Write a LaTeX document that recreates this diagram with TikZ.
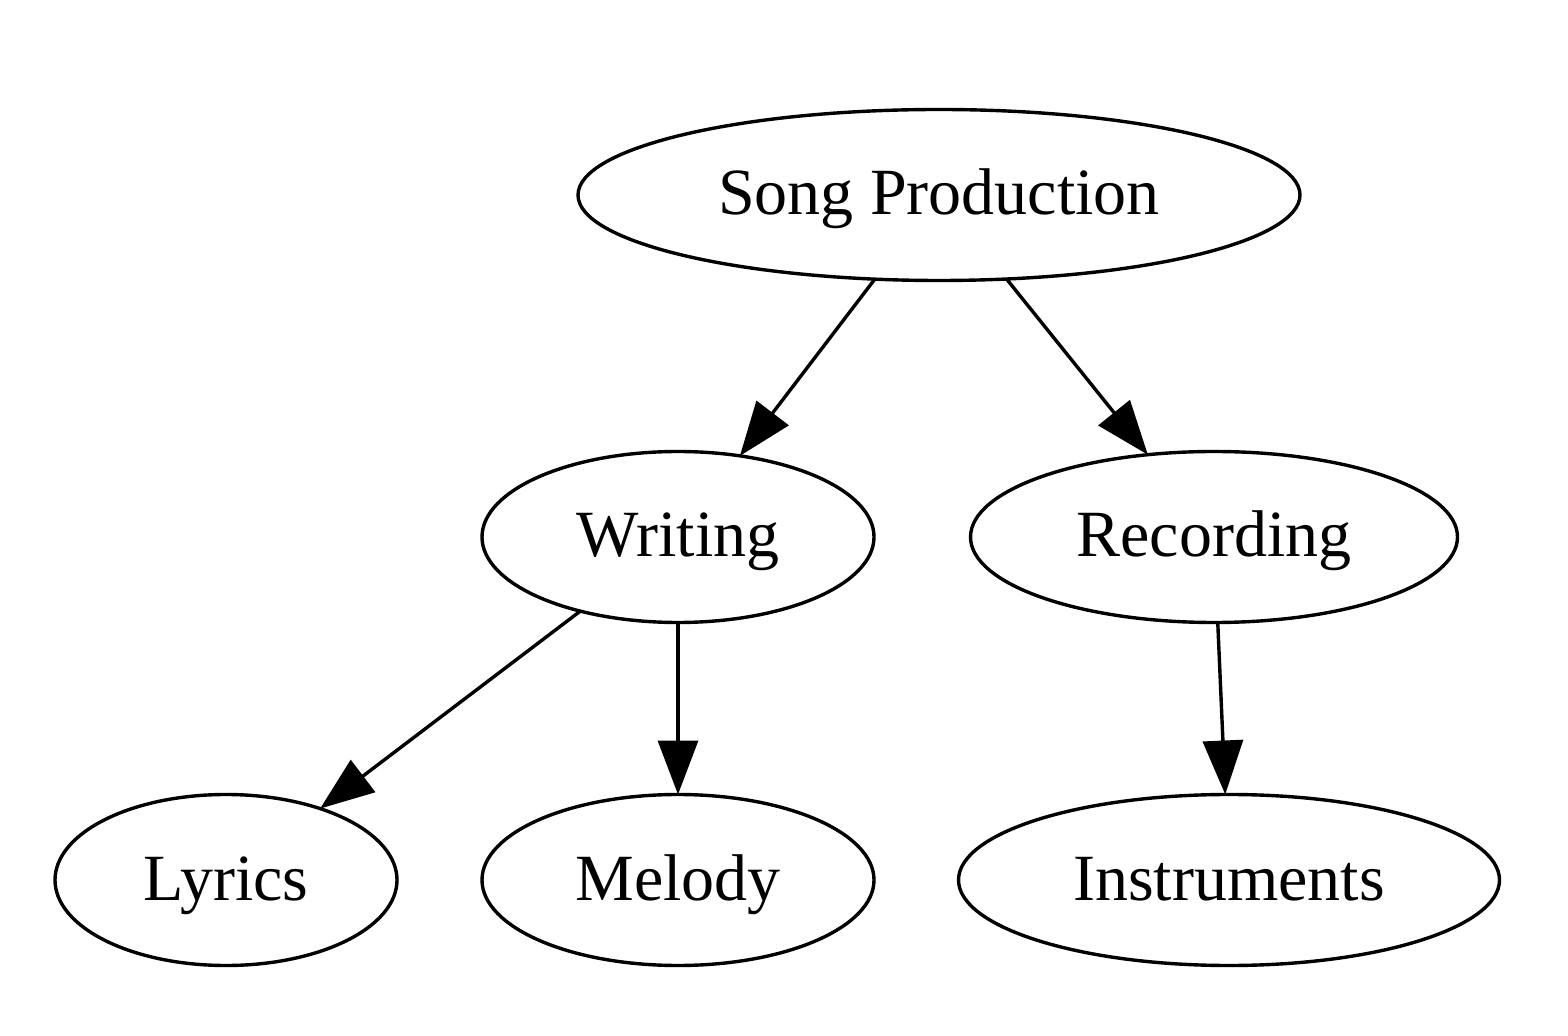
\documentclass[tikz,border=0pt]{standalone}
\usepackage{fontspec}
\setmainfont{Liberation Serif}
\usetikzlibrary{shapes.geometric,arrows.meta}
\begin{document}
\begin{tikzpicture}[x=0.5pt,y=-0.5pt,
  every node/.style={ellipse,draw,line width=1.7pt,inner sep=0pt,outer sep=0pt,
    font=\fontsize{33}{40}\selectfont,text height=24pt,text depth=4pt},
  edge/.style={line width=1.7pt,-{Triangle[length=27pt,width=20pt]}}]
\useasboundingbox (0,0) rectangle (1568,1036);
\node[minimum width=361pt,minimum height=85.5pt] (song) at (939,195) {Song Production};
\node[minimum width=196pt,minimum height=85.5pt] (writ) at (678,537) {Writing};
\node[minimum width=243.5pt,minimum height=85.5pt] (rec) at (1214,537) {Recording};
\node[minimum width=171pt,minimum height=85.5pt] (lyr) at (226,880) {Lyrics};
\node[minimum width=196pt,minimum height=85.5pt] (mel) at (678,880) {Melody};
\node[minimum width=270.5pt,minimum height=85.5pt] (ins) at (1229,880) {Instruments};
\draw[edge] (song) -- (writ);
\draw[edge] (song) -- (rec);
\draw[edge] (writ) -- (lyr);
\draw[edge] (writ) -- (mel);
\draw[edge] (rec) -- (ins);
\end{tikzpicture}
\end{document}
